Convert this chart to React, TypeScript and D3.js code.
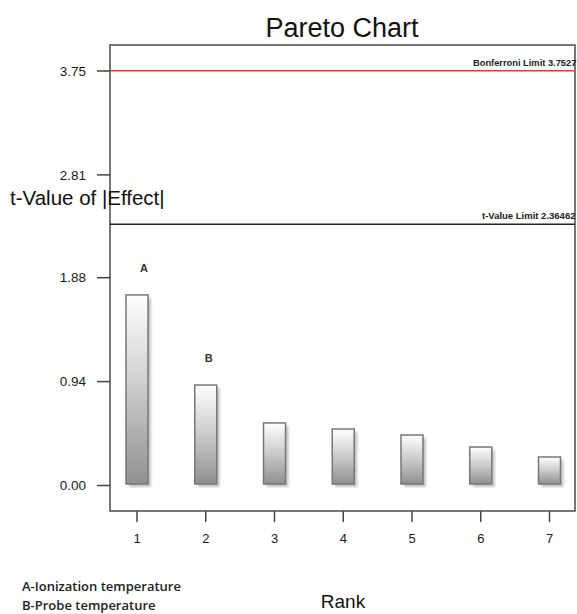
import React from "react";
import * as d3 from "d3";

// Ranked effects (t-value of |effect|)
const ranks = [1, 2, 3, 4, 5, 6, 7];
const tValues = [1.724, 0.909, 0.566, 0.511, 0.457, 0.348, 0.258];
const effectLabels = ["A", "B", "", "", "", "", ""];
const yTickValues = [0, 0.94, 1.88, 2.81, 3.75];
const bonferroniLimit = 3.7527;
const tValueLimit = 2.36462;
const legendItems = ["A-Ionization temperature", "B-Probe temperature"];

const W = 577;
const H = 614;
const frame = { left: 110, right: 575, top: 45, bottom: 511 };

export default function App() {
  const y = d3.scaleLinear().domain([0, 3.75]).range([485.5, 71]);
  const x = d3.scaleLinear().domain([1, 7]).range([137, 549.5]);
  const barW = 22;
  const font = "'Liberation Sans', Arial, sans-serif";

  return (
    <svg
      width={W}
      height={H}
      style={{ position: "absolute", left: 0, top: 0, background: "#fff" }}
      fontFamily={font}
    >
      <defs>
        <linearGradient id="barFill" x1="0" y1="0" x2="0" y2="1">
          <stop offset="0%" stopColor="#ffffff" />
          <stop offset="45%" stopColor="#d0d0d0" />
          <stop offset="100%" stopColor="#909090" />
        </linearGradient>
        <filter id="soft" x="-20%" y="-20%" width="140%" height="140%">
          <feGaussianBlur stdDeviation="1" />
        </filter>
      </defs>

      <text x={342} y={37} textAnchor="middle" fontSize={27} fill="#111">
        Pareto Chart
      </text>

      {/* plot frame */}
      <rect
        x={frame.left}
        y={frame.top}
        width={frame.right - frame.left}
        height={frame.bottom - frame.top}
        fill="none"
        stroke="#555"
        strokeWidth={1.6}
      />

      {/* y axis ticks */}
      {yTickValues.map((v) => (
        <g key={v}>
          <line x1={97} x2={frame.left} y1={y(v)} y2={y(v)} stroke="#444" strokeWidth={1.5} />
          <text x={86} y={y(v)} dy="0.35em" textAnchor="end" fontSize={13.5} fill="#1a1a1a">
            {d3.format(".2f")(v)}
          </text>
        </g>
      ))}

      {/* x axis ticks */}
      {ranks.map((r) => (
        <g key={r}>
          <line x1={x(r)} x2={x(r)} y1={frame.bottom} y2={frame.bottom + 11} stroke="#444" strokeWidth={1.5} />
          <text x={x(r)} y={543} textAnchor="middle" fontSize={13} fill="#1a1a1a">
            {r}
          </text>
        </g>
      ))}

      {/* bars */}
      {tValues.map((v, i) => {
        const bx = x(ranks[i]) - barW / 2;
        const by = y(v);
        const bh = y(0) - 1.5 - by;
        return (
          <g key={i}>
            <rect x={bx + 3} y={by + 3} width={barW} height={bh} fill="#c4c4c4" filter="url(#soft)" />
            <rect x={bx} y={by} width={barW} height={bh} fill="url(#barFill)" stroke="#777" strokeWidth={1.5} />
            {effectLabels[i] && (
              <text
                x={x(ranks[i]) + (i === 0 ? 7 : 3)}
                y={by - 23}
                textAnchor="middle"
                fontSize={11}
                fontWeight="bold"
                fill="#333"
              >
                {effectLabels[i]}
              </text>
            )}
          </g>
        );
      })}

      {/* limit lines */}
      <line x1={frame.left} x2={frame.right} y1={y(bonferroniLimit)} y2={y(bonferroniLimit)} stroke="#ee3b26" strokeWidth={1.5} />
      <text x={473} y={y(bonferroniLimit) - 5} fontSize={9.3} fontWeight="bold" fill="#222">
        {`Bonferroni Limit ${bonferroniLimit}`}
      </text>
      <line x1={frame.left} x2={frame.right} y1={y(tValueLimit)} y2={y(tValueLimit)} stroke="#222" strokeWidth={1.5} />
      <text x={482} y={y(tValueLimit) - 5} fontSize={9.5} fontWeight="bold" fill="#222">
        {`t-Value Limit ${tValueLimit}`}
      </text>

      {/* axis titles */}
      <text x={10} y={205} fontSize={20.5} fill="#111">
        t-Value of |Effect|
      </text>
      <text x={343} y={608} textAnchor="middle" fontSize={19} fill="#111">
        Rank
      </text>

      {/* legend */}
      {legendItems.map((t, i) => (
        <text key={t} x={22} y={591 + i * 19} fontSize={13} fontWeight={600} fontFamily="'Open Sans', sans-serif" fill="#222">
          {t}
        </text>
      ))}
    </svg>
  );
}
